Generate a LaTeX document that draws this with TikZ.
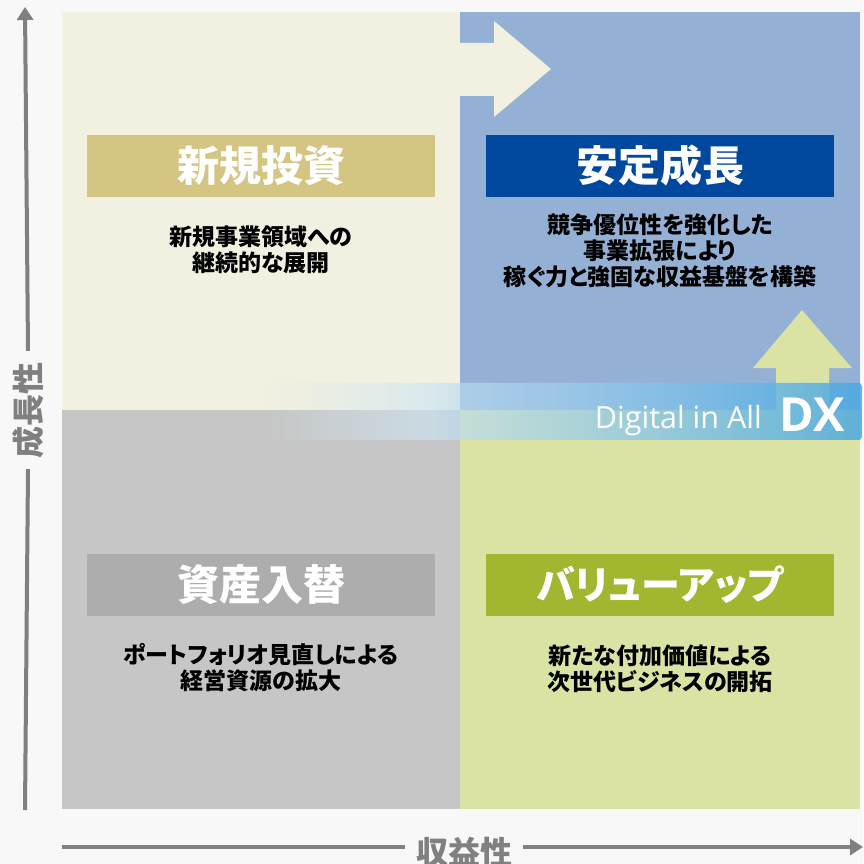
\documentclass[tikz,border=0pt]{standalone}
\usepackage{fontspec}
\newfontfamily\jp{Noto Sans CJK JP}[RawFeature=+palt]
\newfontfamily\latin{Open Sans}
\usetikzlibrary{arrows.meta,fadings}
\definecolor{bgc}{HTML}{F8F8F8}
\definecolor{qtl}{HTML}{F2F0E0}
\definecolor{qtr}{HTML}{94B1D5}
\definecolor{qbl}{HTML}{C6C6C6}
\definecolor{qbr}{HTML}{DAE3A3}
\definecolor{htl}{HTML}{D5C582}
\definecolor{htr}{HTML}{00479E}
\definecolor{hbl}{HTML}{ADADAD}
\definecolor{hbr}{HTML}{A3B62F}
\definecolor{axisc}{HTML}{808080}
\definecolor{dxA}{HTML}{D6EBF5}
\definecolor{dxB}{HTML}{CDE6F4}
\definecolor{dxC}{HTML}{BADCF1}
\definecolor{dxD}{HTML}{4AA8E2}
\pgfdeclarehorizontalshading{dxcol}{100bp}{color(0bp)=(dxA); color(25bp)=(dxA); color(38.9bp)=(dxB); color(41.4bp)=(dxC); color(75bp)=(dxD); color(100bp)=(dxD)}
\pgfdeclarehorizontalshading{dxop}{100bp}{color(0bp)=(black); color(25bp)=(black); color(38.9bp)=(black!35); color(41.4bp)=(black!33); color(75bp)=(black!15); color(100bp)=(black!15)}
\pgfdeclarefading{dxfade}{\pgfuseshading{dxop}}
\tikzset{
  hdr/.style={minimum width=348pt, minimum height=62pt, inner sep=0pt, text=white,
    font=\jp\bfseries\fontsize{42}{42}\selectfont},
  desc/.style={align=center, inner sep=0pt, text=black,
    font=\jp\bfseries\fontsize{23}{26}\selectfont},
  axisline/.style={draw=axisc, line width=4pt},
  axislab/.style={text=axisc, inner ysep=0pt, inner xsep=11pt,
    font=\jp\bfseries\fontsize{32}{32}\selectfont},
  axtip/.style={-{Triangle[length=13pt,width=16pt]}},
}
\begin{document}
\begin{tikzpicture}[x=1pt,y=-1pt]
\useasboundingbox (0,0) rectangle (863,864);
\fill[bgc] (0,0) rectangle (863,864);
% quadrants
\fill[qtl] (62,12) rectangle (460,410);
\fill[qtr] (460,12) rectangle (860,410);
\fill[qbl] (62,410) rectangle (460,809);
\fill[qbr] (460,410) rectangle (860,809);
% arrows
\fill[qtl] (459,43) -- (494,43) -- (494,21) -- (551,69) -- (494,117) -- (494,96) -- (459,96) -- cycle;
\fill[qbr] (776,411) -- (776,368) -- (753,368) -- (802,310) -- (852,368) -- (829,368) -- (829,411) -- cycle;
% headers
\node[hdr, fill=htl] (h1) at (261,165.5) {新規投資};
\node[hdr, fill=htr] (h2) at (660,165.5) {安定成長};
\node[hdr, fill=hbl] (h3) at (261,584.5) {資産入替};
\node[hdr, fill=hbr, font=\jp\bfseries\fontsize{39}{39}\selectfont] (h4) at (660,584.5) {バリューアップ};
% descriptions
\node[desc] (d1) at (261,249.5) {新規事業領域への\\継続的な展開};
\node[desc] (d2) at (660,251) {競争優位性を強化した\\事業拡張により\\稼ぐ力と強固な収益基盤を構築};
\node[desc] (d3) at (261,668) {ポートフォリオ見直しによる\\経営資源の拡大};
\node[desc] (d4) at (660,669) {新たな付加価値による\\次世代ビジネスの開拓};
% DX band
\shade[shading=dxcol, path fading=dxfade, rounded corners=3pt] (265,383) rectangle (862,440);
\node[anchor=base east, inner sep=0pt, text=white, font=\latin\fontsize{30.5}{30.5}\selectfont] (dig) at (762,428) {Digital in All};
\node[anchor=base west, inner sep=0pt, text=white, font=\latin\bfseries\fontsize{47}{47}\selectfont] (dx) at (779,431) {DX};
% axes
\coordinate (vb) at (25,810);
\coordinate (vt) at (25,7);
\node[axislab, rotate=90] (ylab) at (28,410) {成長性};
\draw[axisline] (vb) -- (ylab.west);
\draw[axisline, axtip] (ylab.east) -- (vt);
\coordinate (hb) at (62,847);
\coordinate (he) at (863,847);
\node[axislab] (xlab) at (464,852) {収益性};
\draw[axisline] (hb) -- (hb -| xlab.west);
\draw[axisline, axtip] (he -| xlab.east) -- (he);
\end{tikzpicture}
\end{document}
